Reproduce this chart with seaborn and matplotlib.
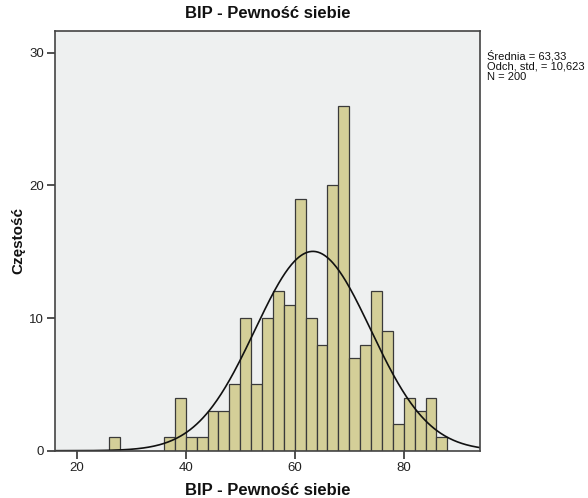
import numpy as np
import pandas as pd
import matplotlib
matplotlib.use("Agg")
import matplotlib.pyplot as plt
import seaborn as sns

# Data (bins of width 2, from 26 to 88)
bin_edges = list(range(26, 90, 2))
counts = [1, 0, 0, 0, 0, 1, 4, 1, 1, 3, 3, 5, 10, 5, 10, 12, 11,
          19, 10, 8, 20, 26, 7, 8, 12, 9, 2, 4, 3, 4, 1]
mean_val = 63.33
std_val = 10.623
n_val = 200
title = "BIP - Pewność siebie"
xlabel = "BIP - Pewność siebie"
ylabel = "Częstość"
x_ticks = [20, 40, 60, 80]
y_ticks = [0, 10, 20, 30]

sns.set_theme(style="white")
plt.rcParams['font.family'] = ['Liberation Sans', 'DejaVu Sans']

centers = [e + 1 for e in bin_edges[:-1]]
df = pd.DataFrame({"x": centers, "w": counts})

fig = plt.figure(figsize=(5.88, 4.98), dpi=100)
ax_h = (450.7 - 31) / 498
ax_w = (480 - 55) / 588
ax = fig.add_axes([55/588, 1 - 450.7/498, ax_w, ax_h])
ax.set_facecolor("#EEF0F0")

sns.histplot(data=df, x="x", weights="w", bins=bin_edges, ax=ax,
             color="#D4CF98", edgecolor="#3a3a3a", linewidth=0.9, alpha=1)

xs = np.linspace(16, 94, 400)
binw = 2
ys = n_val * binw / (std_val * np.sqrt(2 * np.pi)) * np.exp(-0.5 * ((xs - mean_val) / std_val) ** 2)
sns.lineplot(x=xs, y=ys, ax=ax, color="#111111", linewidth=1.2)

ax.set_xlim(16, 94)
ax.set_ylim(0, 31.63)
ax.set_xticks(x_ticks)
ax.set_yticks(y_ticks)
ax.tick_params(axis="both", direction="out", length=6, width=1.2, color="#333333",
               labelsize=9.5, labelcolor="#222222", pad=2, left=True, bottom=True)
for s in ax.spines.values():
    s.set_color("#444444")
    s.set_linewidth(1.2)

ax.set_title(title, fontsize=12, fontweight="bold", pad=9, color="#111111")
ax.set_xlabel(xlabel, fontsize=12, fontweight="bold", color="#111111", va="center")
ax.xaxis.set_label_coords(0.5, (450.7 - 490) / (ax_h * 498))
ax.set_ylabel(ylabel, fontsize=11, fontweight="bold", color="#111111", va="center")
ax.yaxis.set_label_coords((18 - 55) / (ax_w * 588), 0.5)

fig.text(487/588, 1 - 50/498,
         f"Średnia = {mean_val:.2f}".replace(".", ",") + "\n"
         + f"Odch. std. = {std_val:.3f}".replace(".", ",") + "\n"
         + f"N = {n_val}",
         fontsize=8, va="top", ha="left", color="#111111", linespacing=1.0)

fig.savefig("out.png", dpi=100)
